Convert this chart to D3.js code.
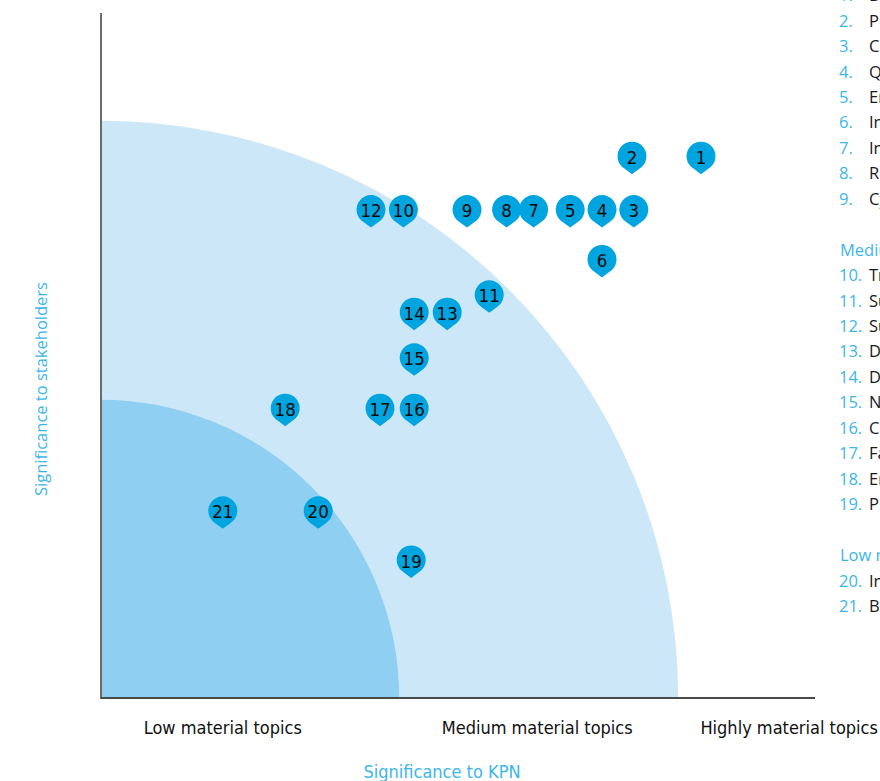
<!DOCTYPE html>
<html>
<head>
<meta charset="utf-8">
<script src="https://cdn.jsdelivr.net/npm/d3@7"></script>
<style>
  html, body { margin: 0; padding: 0; background: #fff; overflow: hidden; }
  svg { display: block; }
</style>
</head>
<body>
<svg id="chart" width="880" height="781"></svg>
<script>
// ---- Data ----
const topicIds = [1,2,3,4,5,6,7,8,9,10,11,12,13,14,15,16,17,18,19,20,21];
const kpnValues =         [100, 88.5, 88.8, 83.5, 78.2, 83.5, 72.1, 67.6, 61.0, 50.4, 64.7, 45.0, 57.7, 52.2, 52.2, 52.2, 46.5, 30.7, 51.7, 36.2, 20.3];
const stakeholderValues = [90.3, 90.3, 81.4, 81.4, 81.4, 73.1, 81.4, 81.4, 81.4, 81.4, 67.2, 81.4, 64.3, 64.3, 56.7, 48.3, 48.3, 48.3, 23.0, 31.2, 31.2];
const zoneRadii = [96.2, 49.7];             // outer (medium), inner (low)
const zoneLabels = ["Low material topics", "Medium material topics", "Highly material topics"];
const zoneLabelPos = [20.3, 72.7, 114.7];     // positions along KPN axis
const legendGroups = [
  {title: "Highly material topics", items: [
    "Business continuity", "Privacy", "Customer experience", "Quality of services",
    "Employee engagement", "Innovation", "Information security", "Reliable network", "Cyber security"]},
  {title: "Medium material topics", items: [
    "Transparency", "Sustainable products", "Supply chain", "Digital inclusion",
    "Diversity and inclusion", "Network coverage", "Circular economy", "Fair competition",
    "Energy efficiency", "Pricing"]},
  {title: "Low material topics", items: ["Investments in society", "Biodiversity"]}
];

// ---- Layout ----
const svg = d3.select("#chart");
const x = d3.scaleLinear().domain([0, 119]).range([101, 815]);
const y = d3.scaleLinear().domain([0, 114]).range([698, 14]);
const pxPerUnit = x(1) - x(0);

const accent = "#3cb6e8";
const pinColor = "#00a5df";

// zones
const arc = d3.arc();
const zoneColors = ["#cce7f8", "#8ecff2"];
svg.append("g").selectAll("path").data(zoneRadii).join("path")
  .attr("transform", `translate(${x(0)},${y(0)})`)
  .attr("d", r => arc({outerRadius: r * pxPerUnit, startAngle: 0, endAngle: Math.PI/2, innerRadius: 0}))
  .attr("fill", (d, i) => zoneColors[i]);

// axes
svg.append("line").attr("x1", x(0)).attr("x2", x(0)).attr("y1", 13).attr("y2", y(0) + 1)
  .attr("stroke", "#6b6b6b").attr("stroke-width", 2);
svg.append("line").attr("x1", x(0)).attr("x2", x(119)).attr("y1", y(0)).attr("y2", y(0))
  .attr("stroke", "#4a4a4a").attr("stroke-width", 2);

const condensed = "'Liberation Sans Narrow','DejaVu Sans Condensed','Roboto',sans-serif";

// zone labels
svg.append("g").selectAll("text").data(zoneLabels).join("text")
  .attr("x", (d, i) => x(zoneLabelPos[i]))
  .attr("y", 734)
  .attr("text-anchor", "middle")
  .attr("font-family", condensed)
  .attr("font-size", 18)
  .attr("fill", "#111")
  .text(d => d);

// axis titles
svg.append("text").attr("x", 442).attr("y", 778).attr("text-anchor", "middle")
  .attr("font-family", condensed).attr("font-size", 18).attr("fill", accent)
  .text("Significance to KPN");
svg.append("text").attr("transform", "translate(47,389) rotate(-90)").attr("text-anchor", "middle")
  .attr("font-family", "'Open Sans','DejaVu Sans',sans-serif").attr("font-size", 16.5).attr("fill", accent)
  .text("Significance to stakeholders");

// pins
const points = topicIds.map((id, i) => ({id, kx: kpnValues[i], sy: stakeholderValues[i]}));
const R = 14.5;
const pinPath = (() => {
  const a = 0.55;
  const sx = R * Math.sin(a), syy = R * Math.cos(a);
  return `M${-sx},${syy} A${R},${R} 0 1 1 ${sx},${syy} L0,18 Z`;
})();
const pins = svg.append("g").selectAll("g").data(points).join("g")
  .attr("transform", d => `translate(${x(d.kx)},${y(d.sy)})`);
pins.append("path").attr("d", pinPath).attr("fill", pinColor);
pins.append("text").attr("text-anchor", "middle").attr("dy", "0.36em").attr("y", 1)
  .attr("font-family", condensed).attr("font-size", 18.5).attr("fill", "#0a0a0a")
  .text(d => d.id);

// legend
const lg = svg.append("g").attr("font-family", "'Open Sans','DejaVu Sans',sans-serif")
  .attr("font-size", 16.5).attr("font-weight", 400);
let n = 1;
const rowH = 25.45;
let yy = -30.3;
legendGroups.forEach((g) => {
  lg.append("text").attr("x", 840).attr("y", yy + 6).attr("fill", accent).text(g.title);
  yy += rowH;
  g.items.forEach(item => {
    const t = lg.append("text").attr("x", 839).attr("y", yy + 6);
    t.append("tspan").attr("fill", accent).text(n + ".");
    t.append("tspan").attr("x", 869).attr("fill", "#1a1a1a").text(item);
    yy += rowH; n++;
  });
  yy += rowH;
});
</script>
</body>
</html>
